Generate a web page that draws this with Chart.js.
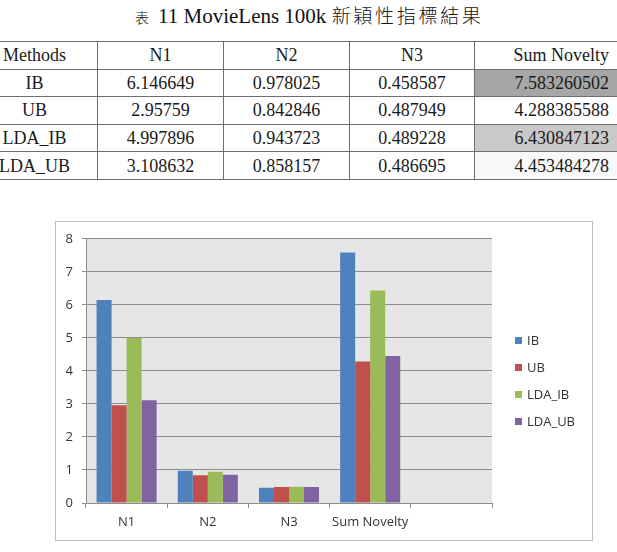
<!DOCTYPE html>
<html>
<head>
<meta charset="utf-8">
<script src="https://cdn.jsdelivr.net/npm/chart.js@4.4.1/dist/chart.umd.min.js"></script>
<style>
  html, body { margin: 0; padding: 0; background: #fff; }
  body { width: 617px; height: 552px; position: relative; overflow: hidden; }
  #title {
    position: absolute; left: 135px; top: 3px; text-align: left;
    font-family: "Liberation Serif", "Noto Sans CJK TC", serif; font-size: 21px; color: #111;
    white-space: nowrap; line-height: 24px;
  }
  #title .cjk { font-family: "Noto Sans CJK TC", sans-serif; font-size: 19px; font-weight: 300; letter-spacing: 2.7px; }
  #title .lbl { font-family: "Noto Sans CJK TC", sans-serif; font-size: 14px; font-weight: 300; margin-right: 9px; }
  #tbl {
    position: absolute; left: -29px; top: 41px; width: 653px; border-collapse: collapse; table-layout: fixed;
    font-family: "Liberation Serif", serif; font-size: 18px; color: #1a1a1a;
  }
  #tbl td { border: 1px solid #6e6e6e; height: 26.6px; padding: 0; text-align: center; line-height: 20px; overflow: visible; white-space: nowrap; }
  #tbl td.last { text-align: right; padding-right: 15px; }
  #frame {
    position: absolute; left: 55px; top: 221px; width: 536px; height: 318px;
    border: 1px solid #bdbdbd; background: #fff;
  }
  #chart { display: block; }
</style>
</head>
<body>
<div id="title"><span class="lbl">表</span>11 MovieLens 100k <span class="cjk">新穎性指標結果</span></div>
<table id="tbl">
  <colgroup><col style="width:126px"><col style="width:126px"><col style="width:126px"><col style="width:125px"><col style="width:150px"></colgroup>
  <tbody id="tbody"></tbody>
</table>
<div id="frame"><canvas id="chart" width="536" height="318"></canvas></div>
<script>
// ---- data ----
const categories = ['N1', 'N2', 'N3', 'Sum Novelty', ''];
const methods = ['IB', 'UB', 'LDA_IB', 'LDA_UB'];
const ibValues = [6.146649, 0.978025, 0.458587, 7.583260502, null];
const ubValues = [2.95759, 0.842846, 0.487949, 4.288385588, null];
const ldaIbValues = [4.997896, 0.943723, 0.489228, 6.430847123, null];
const ldaUbValues = [3.108632, 0.858157, 0.486695, 4.453484278, null];
const yTicks = [0, 1, 2, 3, 4, 5, 6, 7, 8];
const tableHeader = ['Methods', 'N1', 'N2', 'N3', 'Sum Novelty'];
const tableN1 = ['6.146649', '2.95759', '4.997896', '3.108632'];
const tableN2 = ['0.978025', '0.842846', '0.943723', '0.858157'];
const tableN3 = ['0.458587', '0.487949', '0.489228', '0.486695'];
const tableSum = ['7.583260502', '4.288385588', '6.430847123', '4.453484278'];
const sumCellFill = ['#a6a6a6', '#ffffff', '#c9c9c9', '#f8f8f8'];
const seriesColors = ['#4F81BD', '#C0504D', '#9BBB59', '#8064A2'];

// ---- table ----
const tbody = document.getElementById('tbody');
function addRow(cells, fill) {
  const tr = document.createElement('tr');
  cells.forEach((t, i) => {
    const td = document.createElement('td');
    td.textContent = t;
    if (i === 4) { td.className = 'last'; if (fill) td.style.background = fill; }
    tr.appendChild(td);
  });
  tbody.appendChild(tr);
}
addRow(tableHeader, null);
methods.forEach((m, i) => addRow([m, tableN1[i], tableN2[i], tableN3[i], tableSum[i]], sumCellFill[i]));

// ---- chart ----
const allSeries = [ibValues, ubValues, ldaIbValues, ldaUbValues];
const FONT = { family: '"Open Sans", sans-serif', size: 13 };

const plotBg = {
  id: 'plotBg',
  beforeDraw(chart) {
    const { ctx, chartArea: a } = chart;
    ctx.save();
    ctx.fillStyle = '#e6e6e6';
    ctx.fillRect(a.left, a.top, a.right - a.left, a.bottom - a.top);
    ctx.restore();
  }
};

const sideLegend = {
  id: 'sideLegend',
  afterDraw(chart) {
    const { ctx, chartArea: a } = chart;
    const ds = chart.data.datasets;
    const step = 27;
    const cy = chart.height / 2;
    const x0 = a.right + 23;
    ctx.save();
    ctx.font = FONT.size + 'px ' + FONT.family;
    ctx.textBaseline = 'middle';
    ds.forEach((d, i) => {
      const y = cy + (i - (ds.length - 1) / 2) * step;
      ctx.fillStyle = d.backgroundColor;
      ctx.fillRect(x0, Math.round(y - 3.5), 7, 7);
      ctx.fillStyle = '#333333';
      ctx.fillText(d.label, x0 + 12, y + 0.5);
    });
    ctx.restore();
  }
};

new Chart(document.getElementById('chart'), {
  type: 'bar',
  data: {
    labels: categories,
    datasets: methods.map((m, i) => ({
      label: m,
      data: allSeries[i],
      backgroundColor: seriesColors[i],
      borderWidth: 0,
      categoryPercentage: 0.74,
      barPercentage: 1.0
    }))
  },
  options: {
    responsive: false,
    animation: false,
    devicePixelRatio: 1,
    layout: { padding: { top: 16, right: 100, left: 0, bottom: 0 } },
    plugins: { legend: { display: false }, tooltip: { enabled: false }, title: { display: false } },
    scales: {
      x: {
        offset: true,
        grid: { offset: true, drawOnChartArea: false, drawTicks: true, tickLength: 5, color: '#8c8c8c', lineWidth: 1 },
        border: { display: true, color: '#8c8c8c', width: 1 },
        ticks: { font: FONT, color: '#333333', padding: 6, maxRotation: 0, autoSkip: false },
        afterFit(s) { s.height = 37; }
      },
      y: {
        min: yTicks[0],
        max: yTicks[yTicks.length - 1],
        afterBuildTicks(s) { s.ticks = yTicks.map(v => ({ value: v })); },
        grid: { color: '#8c8c8c', lineWidth: 1, drawTicks: true, tickLength: 4 },
        border: { display: true, color: '#8c8c8c', width: 1 },
        ticks: { font: FONT, color: '#333333', padding: 9 },
        afterFit(s) { s.width = 30; }
      }
    }
  },
  plugins: [plotBg, sideLegend]
});
</script>
</body>
</html>
